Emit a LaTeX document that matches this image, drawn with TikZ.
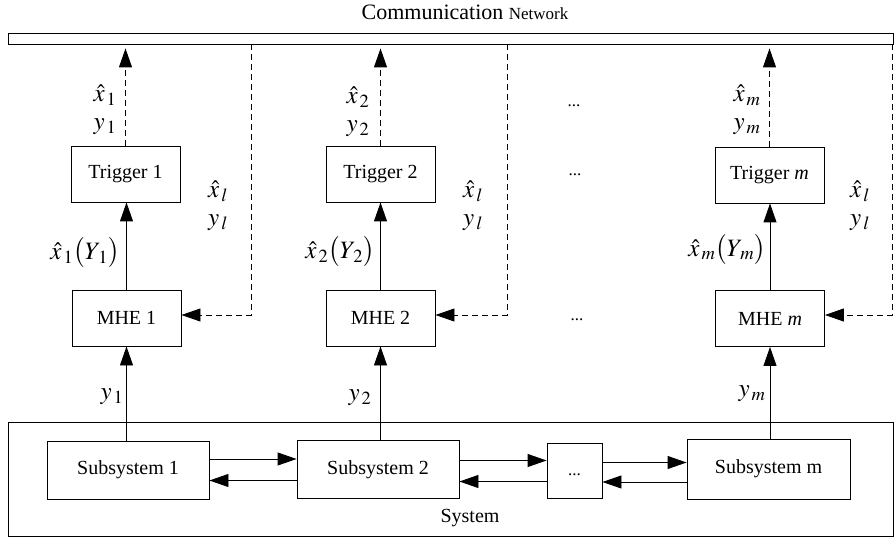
\documentclass[tikz,border=0pt]{standalone}
\usepackage{mathptmx}
\usepackage[no-math]{fontspec}
\setmainfont{Liberation Serif}
\usetikzlibrary{arrows.meta}

\begin{document}
\begin{tikzpicture}[x=1pt,y=-1pt,
  every node/.style={font=\fontsize{20}{24}\selectfont},
  blk/.style={draw, line width=0.9pt, minimum width=109pt, minimum height=56pt, inner sep=0pt},
  subbox/.style={blk, minimum width=162pt, minimum height=58pt},
  lbl/.style={font=\fontsize{25}{28}\selectfont, inner sep=0pt},
  pair/.style={lbl, align=center},
  dots/.style={anchor=base, inner sep=0pt, font=\fontsize{17}{20}\selectfont},
  link/.style={line width=0.9pt, -{Triangle[length=19pt,width=13pt]}},
  dlink/.style={link, dash pattern=on 6pt off 4pt},
]
\useasboundingbox (0,0) rectangle (894,537);

% communication network bar
\node[anchor=base, inner sep=0pt] (title) at (465,20)
  {\fontsize{22}{24}\selectfont Communication \fontsize{17}{20}\selectfont Network};
\node[draw, line width=0.9pt, minimum width=885pt, minimum height=11pt, inner sep=0pt] (net) at (450.5,38.5) {};

% plant
\node[draw, line width=0.9pt, minimum width=885pt, minimum height=114pt, inner sep=0pt] (sys) at (450.5,479) {};
\node (syslbl) at (470,518) {System};

\node[subbox] (s1) at (128,470) {Subsystem 1};
\node[subbox] (s2) at (378,469.5) {Subsystem 2};
\node[blk, minimum width=55pt, minimum height=55pt, text height=14pt, text depth=4pt, font=\fontsize{17}{20}\selectfont] (sd) at (574.5,470.5) {...};
\node[subbox, minimum width=163pt, minimum height=60pt] (sm) at (768.5,469) {Subsystem m};

% estimators and triggers
\node[blk] (m1) at (126.5,318) {MHE 1};
\node[blk] (m2) at (380.5,318) {MHE 2};
\node[blk] (mm) at (770,318.5) {MHE \textit{m}};

\node[blk] (t1) at (125.5,174) {Trigger 1};
\node[blk] (t2) at (380.5,174) {Trigger 2};
\node[blk] (tm) at (769.5,175) {Trigger \textit{m}};

% ellipses between columns
\node[dots] (d1) at (574,107) {...};
\node[dots] (d2) at (575,176) {...};
\node[dots] (d3) at (577,320) {...};

% measurements into estimators
\draw[link] (m1.south |- s1.north) -- (m1.south);
\draw[link] (m2.south |- s2.north) -- (m2.south);
\draw[link] (mm.south |- sm.north) -- (mm.south);

% estimates into triggers
\draw[link] (m1.north) -- (m1.north |- t1.south);
\draw[link] (m2.north) -- (m2.north |- t2.south);
\draw[link] (mm.north) -- (mm.north |- tm.south);

% triggered transmissions to the network
\draw[dlink, shorten >=4pt] (t1.north) -- (t1.north |- net.south);
\draw[dlink, shorten >=4pt] (t2.north) -- (t2.north |- net.south);
\draw[dlink, shorten >=4pt] (tm.north) -- (tm.north |- net.south);

% neighbour information back to the estimators
\coordinate (r1) at (251,315);
\coordinate (r2) at (507,315);
\coordinate (rm) at (892,315);
\draw[dlink] (r1 |- net.south) -- (r1) -- (r1 -| m1.east);
\draw[dlink] (r2 |- net.south) -- (r2) -- (r2 -| m2.east);
\draw[dlink] (rm |- net.south) -- (rm) -- (rm -| mm.east);

% coupling between subsystems
\draw[link] ([yshift=11pt]s1.east) -- ([yshift=11pt]s1.east -| s2.west);
\draw[link] ([yshift=-11pt]s2.west) -- ([yshift=-11pt]s2.west -| s1.east);
\draw[link] ([yshift=9pt]s2.east) -- ([yshift=9pt]s2.east -| sd.west);
\draw[link] ([yshift=-11pt]sd.west) -- ([yshift=-11pt]sd.west -| s2.east);
\draw[link] ([yshift=8pt]sd.east) -- ([yshift=8pt]sd.east -| sm.west);
\draw[link] ([yshift=-13pt]sm.west) -- ([yshift=-13pt]sm.west -| sd.east);

% transmitted signals
\node[pair] (a1) at (105,110) {$\hat{x}_{\,1}$\\$y_{\,1}$};
\node[pair] (a2) at (358,112) {$\hat{x}_{\,2}$\\$y_{\,2}$};
\node[pair] (am) at (747,110) {$\hat{x}_{\,m}$\\$y_{\,m}$};

% received neighbour signals
\node[pair] (l1) at (218,206) {$\hat{x}_{\,l}$\\$y_{\,l}$};
\node[pair] (l2) at (473,206) {$\hat{x}_{\,l}$\\$y_{\,l}$};
\node[pair] (lm) at (860,206) {$\hat{x}_{\,l}$\\$y_{\,l}$};

% local estimates
\node[lbl] (e1) at (85,253) {$\hat{x}_{\,1}\bigl(Y_{\,1}\bigr)$};
\node[lbl] (e2) at (340,252) {$\hat{x}_{\,2}\bigl(Y_{\,2}\bigr)$};
\node[lbl] (em) at (727,250) {$\hat{x}_{\,m}\bigl(Y_{\,m}\bigr)$};

% local measurements
\node[lbl] (y1) at (112,397) {$y_{\,1}$};
\node[lbl] (y2) at (360,398) {$y_{\,2}$};
\node[lbl] (ym) at (752,394) {$y_{\,m}$};
\end{tikzpicture}
\end{document}
